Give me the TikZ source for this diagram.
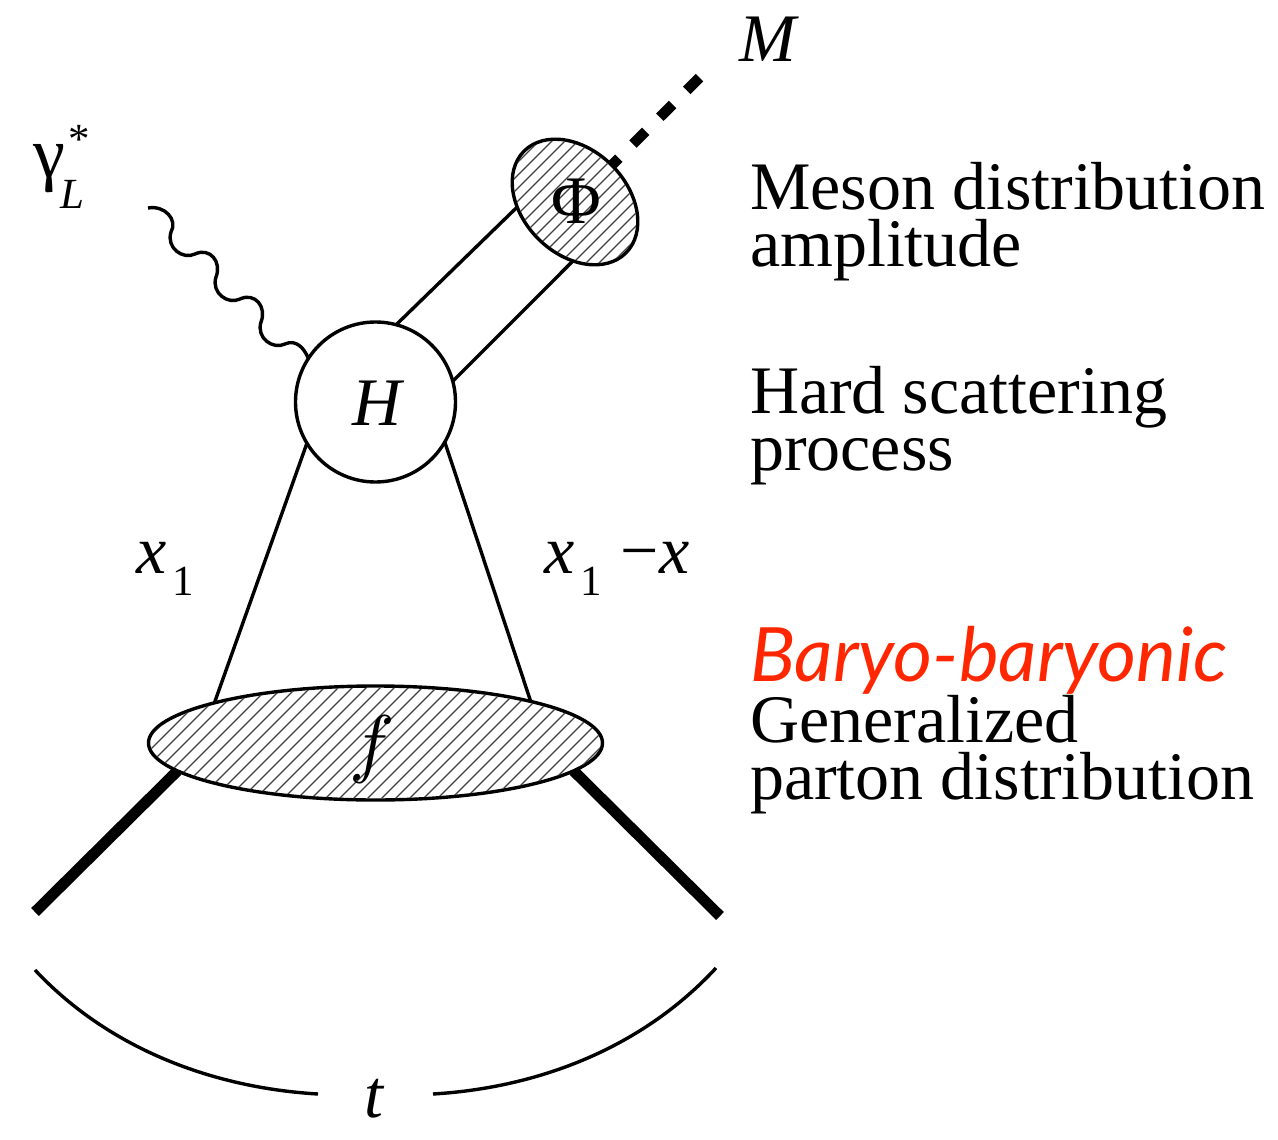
\documentclass[tikz,border=0pt]{standalone}
\usepackage{fontspec}
\setmainfont{Liberation Serif}
\newfontfamily\redfont{Lato}
\usetikzlibrary{shapes.geometric,backgrounds}
\newcommand{\bigsize}{\fontsize{68}{68}\selectfont}
\newcommand{\subsize}{\fontsize{43}{43}\selectfont}
\definecolor{barred}{RGB}{255,38,0}
\tikzset{
  every node/.style={inner sep=0pt,outer sep=0pt},
  line/.style={line width=3.4pt},
  heavy/.style={line width=11pt},
  blobA/.style={draw,line width=3.4pt,fill=white,ellipse},
  hatch/.style={line width=1.3pt,black!75},
  txt/.style={anchor=north west,align=left,font=\fontsize{68}{57.5}\selectfont},
  lab/.style={anchor=base,font=\bigsize\itshape},
}
\begin{document}
\begin{tikzpicture}[x=1pt,y=-1pt]
\useasboundingbox (0,0) rectangle (1278,1140);
% nodes
\node[blobA,minimum width=144pt,minimum height=104pt,rotate=-45] (phi) at (575,202) {};
\node[blobA,minimum width=454pt,minimum height=114pt] (fblob) at (375.5,743) {};
\node[draw,line width=3.4pt,fill=white,circle,minimum size=160pt] (H) at (375.5,402) {};
\coordinate (mend) at (699.5,77.6);
\coordinate (gend) at (148,208);
\coordinate (pl) at (35,912);
\coordinate (pr) at (720,916);
\coordinate (al) at (35,970);
\coordinate (ar) at (716,968);
% hatching
\begin{scope}
\clip[rotate around={-45:(575,202)}] (575,202) ellipse [x radius=70.5pt,y radius=50.5pt];
\foreach \c in {680,693,...,880} \draw[hatch] ({\c-130},130) -- ({\c-280},280);
\end{scope}
\begin{scope}
\clip (375.5,743) ellipse [x radius=225.5pt,y radius=55.5pt];
\foreach \c in {760,774,...,1430} \draw[hatch] ({\c-680},680) -- ({\c-810},810);
\end{scope}
% connectors
\begin{scope}[on background layer]
\draw[line width=10.5pt,dash pattern=on 18pt off 20pt] (mend) -- (phi.center);
\draw[line] (H.75) -- (phi.230);
\draw[line] (H.15) -- (phi.313);
\draw[line] (H.211) -- (fblob.166.5);
\draw[line] (H.330) -- (fblob.15.1);
\draw[heavy] (fblob.188.6) -- (pl);
\draw[heavy] (fblob.352) -- (pr);
\draw[line] (gend) .. controls (165,205) and (178,220) .. (171,232)
  .. controls (166,248) and (183,260) .. (195,254)
  .. controls (210,247) and (222,262) .. (216,277)
  .. controls (211,293) and (228,305) .. (240,299)
  .. controls (255,292) and (267,307) .. (261,322)
  .. controls (256,338) and (273,350) .. (285,344)
  .. controls (296,339) and (304,348) .. (H.147);
\end{scope}
% labels
\node[lab] (mlab) at (767.5,62) {M};
\node[anchor=base,font=\fontsize{68}{68}\selectfont] (philab) at (576,223) {Φ};
\node[lab] (hlab) at (377.5,425) {H};
\node[scale=7.6] (flab) at (372,749) {$f$};
\node[anchor=base west] (glab) at (33,177) {\fontsize{72}{72}\selectfont γ\rlap{\raisebox{24pt}{\hspace{-3pt}\subsize\,*}}\raisebox{-31pt}{\hspace{-4pt}\subsize\itshape L}};
\node[anchor=base west] (xa) at (136,573) {\bigsize\itshape x\hspace{6pt}\raisebox{-22pt}{\subsize\upshape 1}};
\node[anchor=base west] (xb) at (544,573) {\bigsize\itshape x\hspace{6pt}\raisebox{-22pt}{\subsize\upshape 1}\hspace{19pt}\upshape −\itshape x};
\node[lab] (tlab) at (374,1117) {t};
\draw[line] (al) .. controls (110,1050) and (215,1088) .. (318,1094);
\draw[line] (433,1094) .. controls (535,1088) and (640,1050) .. (ar);
% side text
\node[txt] (t1) at (750,162) {Meson distribution\\amplitude};
\node[txt] (t3) at (750,366) {Hard scattering\\process};
\node[txt] (t5) at (750,626) {{\color{barred}\redfont\itshape\fontsize{75}{57.5}\selectfont Baryo-baryonic}\\Generalized\\parton distribution};
\end{tikzpicture}
\end{document}
